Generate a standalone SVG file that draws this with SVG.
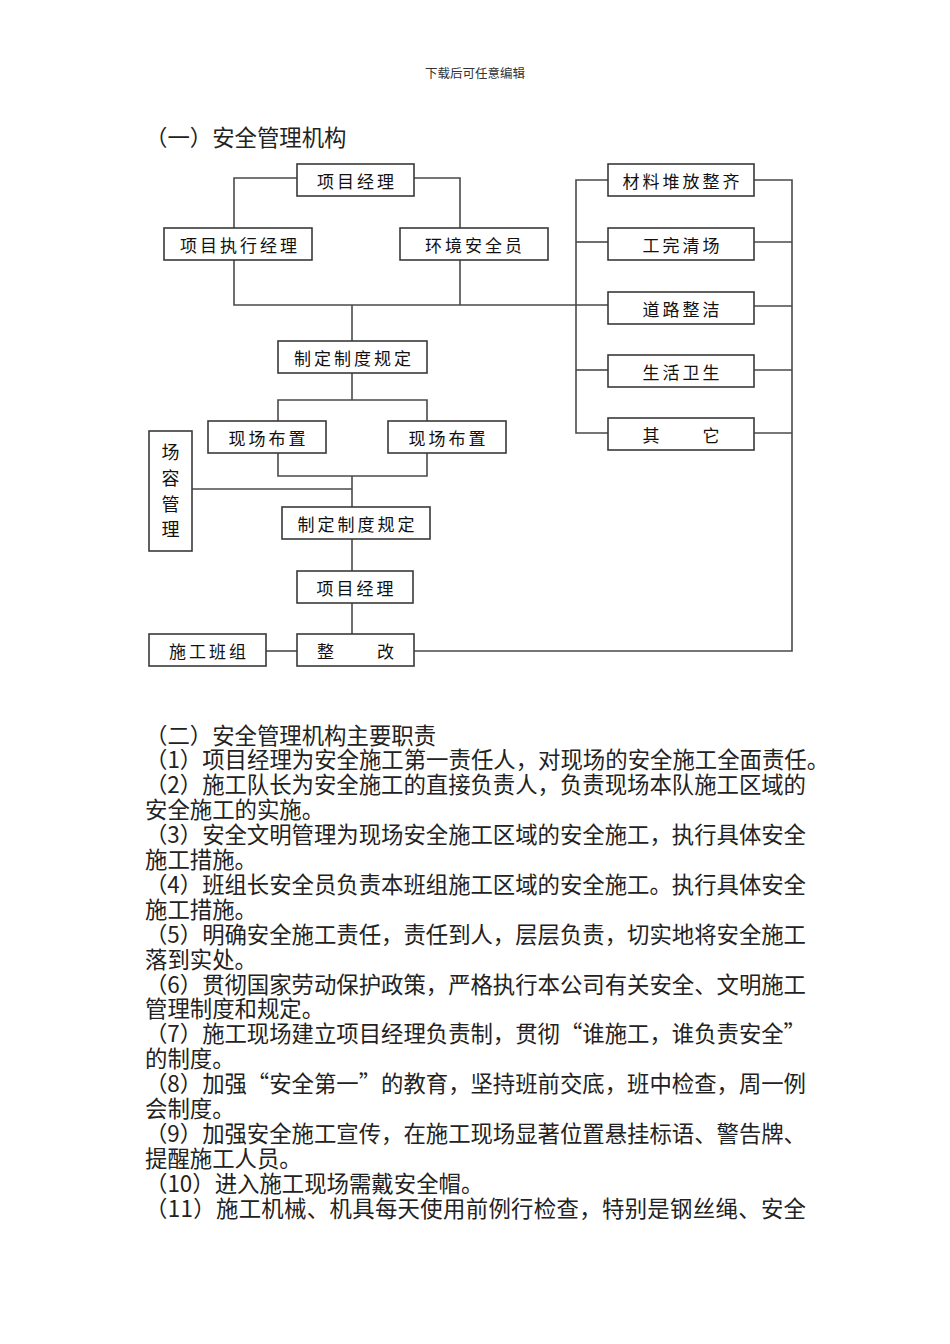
<svg xmlns="http://www.w3.org/2000/svg" width="950" height="1344" viewBox="0 0 950 1344">
<style>
.bx{fill:#fff;stroke:#3a3a3a;stroke-width:1.6}
.bt{font-family:"Noto Sans CJK SC","Noto Sans CJK JP",sans-serif;font-size:17px;fill:#111;text-anchor:middle;dominant-baseline:central;letter-spacing:3px}
.vt{font-family:"Noto Sans CJK SC",sans-serif;font-size:18px;fill:#111;text-anchor:middle;dominant-baseline:central}
.ln{fill:none;stroke:#4a4a4a;stroke-width:1.6}
.p{font-family:"Noto Sans CJK SC","Noto Sans CJK JP",sans-serif;font-size:22.4px;fill:#222}
.hd{font-family:"Noto Sans CJK SC",sans-serif;font-size:12.5px;fill:#333;text-anchor:middle}
</style>
<rect width="950" height="1344" fill="#fff"/>
<text class="hd" x="475" y="77.5">下载后可任意编辑</text>
<text class="p" x="145" y="145.5">（一）安全管理机构</text>

<g id="connectors">
<path class="ln" d="M297,178 H234 V228"/>
<path class="ln" d="M414,178 H460 V228"/>
<path class="ln" d="M234,260 V305 H608"/>
<path class="ln" d="M460,260 V305"/>
<path class="ln" d="M352,305 V341"/>
<path class="ln" d="M352,373 V400"/>
<path class="ln" d="M278,421 V400 H427 V421"/>
<path class="ln" d="M278,453 V476 H427 V453"/>
<path class="ln" d="M352,476 V507"/>
<path class="ln" d="M192,489 H352"/>
<path class="ln" d="M352,539 V571"/>
<path class="ln" d="M352,603 V634"/>
<path class="ln" d="M266,651 H297"/>
<path class="ln" d="M414,651 H792 V180 H754"/>
<path class="ln" d="M608,180 H576 V433 H608"/>
<path class="ln" d="M576,242 H608"/>
<path class="ln" d="M576,370 H608"/>
<path class="ln" d="M754,242 H792"/>
<path class="ln" d="M754,306 H792"/>
<path class="ln" d="M754,370 H792"/>
<path class="ln" d="M754,433 H792"/>
</g>

<g id="n_pm1"><rect class="bx" x="297" y="164" width="117" height="32"/><text class="bt" x="357" y="180">项目经理</text></g>
<g id="n_exec"><rect class="bx" x="164" y="228" width="148" height="32"/><text class="bt" x="240" y="244">项目执行经理</text></g>
<g id="n_env"><rect class="bx" x="400" y="228" width="148" height="32"/><text class="bt" x="475" y="244">环境安全员</text></g>

<g id="n_r1"><rect class="bx" x="608" y="164" width="146" height="32"/><text class="bt" x="682.5" y="180">材料堆放整齐</text></g>
<g id="n_r2"><rect class="bx" x="608" y="228" width="146" height="32"/><text class="bt" x="682.5" y="244">工完清场</text></g>
<g id="n_r3"><rect class="bx" x="608" y="292" width="146" height="32"/><text class="bt" x="682.5" y="308">道路整洁</text></g>
<g id="n_r4"><rect class="bx" x="608" y="355" width="146" height="32"/><text class="bt" x="682.5" y="371">生活卫生</text></g>
<g id="n_r5"><rect class="bx" x="608" y="418" width="146" height="32"/><text class="bt" x="682.5" y="434">其　　它</text></g>

<g id="n_rule1"><rect class="bx" x="278" y="341" width="149" height="32"/><text class="bt" x="354" y="357">制定制度规定</text></g>
<g id="n_site1"><rect class="bx" x="208" y="421" width="118" height="32"/><text class="bt" x="268.5" y="437">现场布置</text></g>
<g id="n_site2"><rect class="bx" x="388" y="421" width="118" height="32"/><text class="bt" x="448.5" y="437">现场布置</text></g>
<g id="n_mgmt"><rect class="bx" x="149" y="431" width="43" height="120"/>
<text class="vt" x="170.5" y="451">场</text><text class="vt" x="170.5" y="477">容</text><text class="vt" x="170.5" y="503">管</text><text class="vt" x="170.5" y="528">理</text></g>
<g id="n_rule2"><rect class="bx" x="282" y="507" width="148" height="32"/><text class="bt" x="357.5" y="523">制定制度规定</text></g>
<g id="n_pm2"><rect class="bx" x="297" y="571" width="116" height="32"/><text class="bt" x="356.5" y="587">项目经理</text></g>
<g id="n_team"><rect class="bx" x="149" y="634" width="117" height="32"/><text class="bt" x="209" y="650">施工班组</text></g>
<g id="n_fix"><rect class="bx" x="297" y="634" width="117" height="32"/><text class="bt" x="357" y="650">整　　改</text></g>

<g id="body">
<text class="p" x="145" y="743.5">（二）安全管理机构主要职责</text>
<text class="p" x="145" y="768.4">（1）项目经理为安全施工第一责任人，对现场的安全施工全面责任。</text>
<text class="p" x="145" y="793.3" textLength="661" lengthAdjust="spacing">（2）施工队长为安全施工的直接负责人，负责现场本队施工区域的</text>
<text class="p" x="145" y="818.2">安全施工的实施。</text>
<text class="p" x="145" y="843.1" textLength="661" lengthAdjust="spacing">（3）安全文明管理为现场安全施工区域的安全施工，执行具体安全</text>
<text class="p" x="145" y="868">施工措施。</text>
<text class="p" x="145" y="892.9" textLength="661" lengthAdjust="spacing">（4）班组长安全员负责本班组施工区域的安全施工。执行具体安全</text>
<text class="p" x="145" y="917.8">施工措施。</text>
<text class="p" x="145" y="942.7" textLength="661" lengthAdjust="spacing">（5）明确安全施工责任，责任到人，层层负责，切实地将安全施工</text>
<text class="p" x="145" y="967.6">落到实处。</text>
<text class="p" x="145" y="992.5" textLength="661" lengthAdjust="spacing">（6）贯彻国家劳动保护政策，严格执行本公司有关安全、文明施工</text>
<text class="p" x="145" y="1017.4">管理制度和规定。</text>
<text class="p" x="145" y="1042.3" textLength="661" lengthAdjust="spacing">（7）施工现场建立项目经理负责制，贯彻“谁施工，谁负责安全”</text>
<text class="p" x="145" y="1067.2">的制度。</text>
<text class="p" x="145" y="1092.1" textLength="661" lengthAdjust="spacing">（8）加强“安全第一”的教育，坚持班前交底，班中检查，周一例</text>
<text class="p" x="145" y="1117">会制度。</text>
<text class="p" x="145" y="1141.9" textLength="661" lengthAdjust="spacing">（9）加强安全施工宣传，在施工现场显著位置悬挂标语、警告牌、</text>
<text class="p" x="145" y="1166.8">提醒施工人员。</text>
<text class="p" x="145" y="1191.7">（10）进入施工现场需戴安全帽。</text>
<text class="p" x="145" y="1216.6" textLength="661" lengthAdjust="spacing">（11）施工机械、机具每天使用前例行检查，特别是钢丝绳、安全</text>
</g>
</svg>
